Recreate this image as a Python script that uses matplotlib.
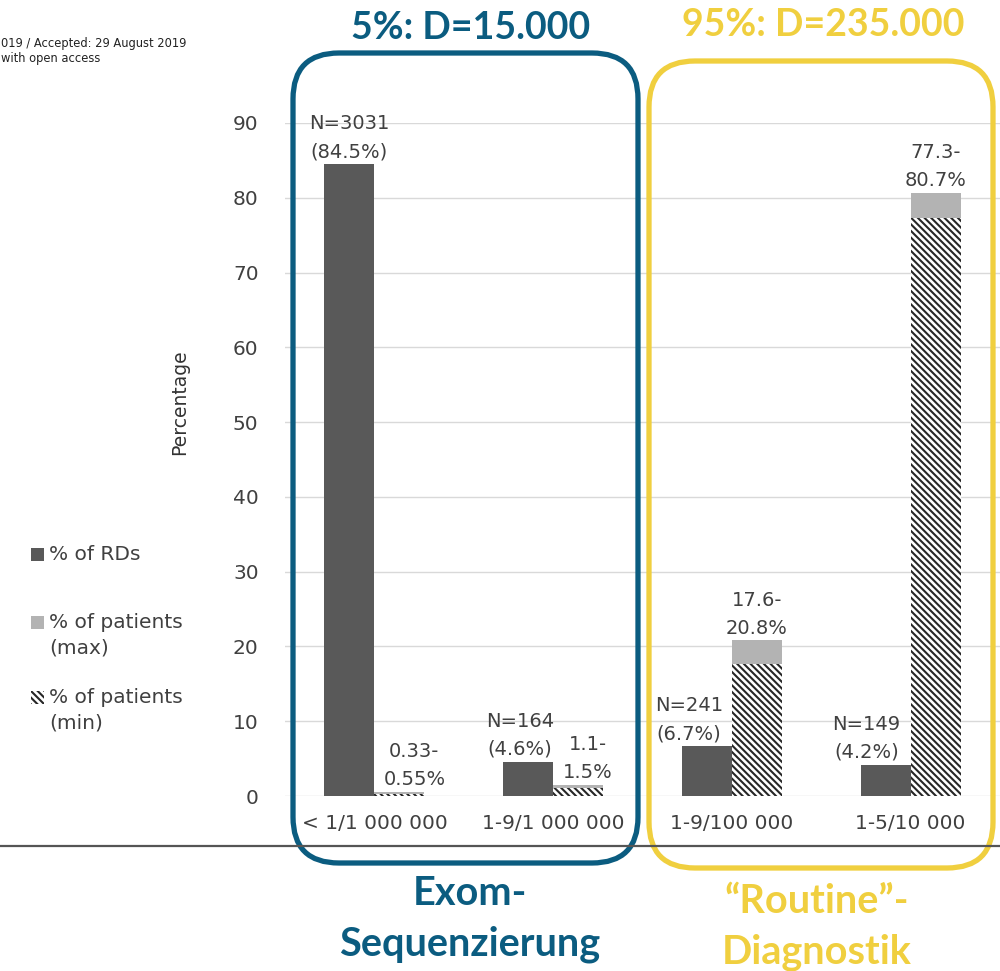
import numpy as np
import matplotlib
matplotlib.use("Agg")
import matplotlib.pyplot as plt
from matplotlib.patches import FancyBboxPatch, Rectangle
from matplotlib.lines import Line2D

# ── Data ─────────────────────────────────────────────────────────────────────
categories   = ["< 1/1 000 000", "1-9/1 000 000", "1-9/100 000", "1-5/10 000"]
pct_rds      = [84.5, 4.6, 6.7, 4.2]
n_rds        = [3031, 164, 241, 149]
pat_min      = [0.33, 1.1, 17.6, 77.3]
pat_max      = [0.55, 1.5, 20.8, 80.7]
rd_labels    = ["N=3031\n(84.5%)", "N=164\n(4.6%)", "N=241\n(6.7%)", "N=149\n(4.2%)"]
pat_labels   = ["0.33-\n0.55%", "1.1-\n1.5%", "17.6-\n20.8%", "77.3-\n80.7%"]
yticks       = [0, 10, 20, 30, 40, 50, 60, 70, 80, 90]
legend_texts = ["% of RDs", "% of patients\n(max)", "% of patients\n(min)"]

# ── Style ────────────────────────────────────────────────────────────────────
DARK   = "#595959"
LIGHT  = "#b3b3b3"
HATCHC = "#262626"
TXT    = "#404040"
BLUE   = "#0b5c80"
YELLOW = "#f0cf3f"
HATCH  = "\\" * 5
W, H   = 1000, 971

plt.rcParams["font.family"] = "DejaVu Sans"
plt.rcParams["hatch.linewidth"] = 1.5

def fx(x):
    return x / W

def fy(y):
    return 1 - y / H

fig = plt.figure(figsize=(W / 100, H / 100), dpi=100)
ax = fig.add_axes([fx(285), fy(796), fx(1000) - fx(285), fy(123) - fy(796)])

x = np.arange(len(categories))
bw = 0.28

ax.bar(x - bw / 2, pct_rds, width=bw, color=DARK, zorder=3)
ax.bar(x + bw / 2, pat_min, width=bw, color="white", edgecolor=HATCHC,
       hatch=HATCH, linewidth=0, zorder=3)
ax.bar(x + bw / 2, np.array(pat_max) - np.array(pat_min), bottom=pat_min,
       width=bw, color=LIGHT, zorder=3)

# value labels (pixel offsets relative to bar centre)
rd_dx  = [0, -8, -18, -19]
pat_dx = [15, 10, 0, 0]
for i in range(len(categories)):
    ax.annotate(rd_labels[i], (x[i] - bw / 2, pct_rds[i]),
                xytext=(rd_dx[i] * 0.72, 2), textcoords="offset points",
                ha="center", va="bottom", fontsize=14, color=TXT,
                linespacing=1.6, annotation_clip=False)
    ax.annotate(pat_labels[i], (x[i] + bw / 2, pat_max[i]),
                xytext=(pat_dx[i] * 0.72, 2), textcoords="offset points",
                ha="center", va="bottom", fontsize=14, color=TXT,
                linespacing=1.6, annotation_clip=False)

ax.set_xlim(-0.5, len(categories) - 0.5)
ax.set_ylim(0, 90)
ax.set_yticks(yticks)
ax.set_xticks(x)
ax.set_xticklabels(categories)
ax.tick_params(axis="both", length=0, labelsize=14.5, labelcolor=TXT)
ax.tick_params(axis="y", pad=19)
ax.tick_params(axis="x", pad=13)
ax.grid(axis="y", color="#d9d9d9", linewidth=1, zorder=0)
for s in ax.spines.values():
    s.set_visible(False)

fig.text(fx(180), fy(402), "Percentage", rotation=90, ha="center",
         va="center", fontsize=13.5, color="#333333")

# ── Legend (drawn by hand to match layout) ───────────────────────────────────
leg_y = [555, 623, 698]
leg_fc = [DARK, LIGHT, "white"]
leg_hatch = [None, None, HATCH]
for txt, yy, fc, ht in zip(legend_texts, leg_y, leg_fc, leg_hatch):
    fig.add_artist(Rectangle((fx(31), fy(yy + 6)), fx(13), fy(yy - 7) - fy(yy + 6),
                             facecolor=fc, edgecolor=HATCHC if ht else fc,
                             hatch=ht, linewidth=0, transform=fig.transFigure))
    fig.text(fx(49), fy(yy - 10), txt, ha="left", va="top", fontsize=14.5,
             color=TXT, linespacing=1.45)

# ── Page furniture ───────────────────────────────────────────────────────────
fig.text(0.001, fy(47), "019 / Accepted: 29 August 2019", fontsize=8.3,
         color="#222222", ha="left", va="baseline")
fig.text(0.001, fy(62), "with open access", fontsize=8.3,
         color="#222222", ha="left", va="baseline")
fig.add_artist(Line2D([0, 1], [fy(846), fy(846)], color="#555555",
                      linewidth=1.6, transform=fig.transFigure))

# rounded boxes (pixel units -> inches)
for (l, t, r, b), col in [((293, 53, 638, 863), BLUE),
                          ((649, 61, 993, 868), YELLOW)]:
    box = FancyBboxPatch((l / 100, (H - b) / 100), (r - l) / 100, (b - t) / 100,
                         boxstyle="round,pad=0,rounding_size=0.46",
                         facecolor="none", edgecolor=col, linewidth=3.8,
                         transform=fig.dpi_scale_trans)
    fig.add_artist(box)

# headings and group captions (one text per line, baseline-aligned)
captions = [("5%: D=15.000", 471, 39, BLUE, 27),
            ("95%: D=235.000", 823, 36, YELLOW, 27),
            ("Exom-", 470, 905, BLUE, 28.5),
            ("Sequenzierung", 470, 955, BLUE, 28.5),
            ("\u201cRoutine\u201d-", 817, 913, YELLOW, 28.5),
            ("Diagnostik", 817, 963, YELLOW, 28.5)]
for txt, cx, base, col, size in captions:
    fig.text(fx(cx), fy(base), txt, ha="center", va="baseline",
             fontsize=size, fontweight="bold", family="Lato", color=col)

fig.savefig("out.png", dpi=100)
